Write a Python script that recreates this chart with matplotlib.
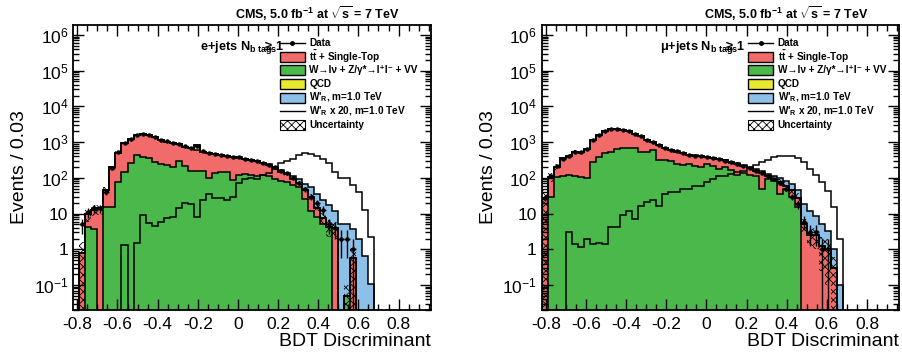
import numpy as np
import matplotlib
matplotlib.use("Agg")
import matplotlib.pyplot as plt
from matplotlib.patches import Rectangle
from matplotlib.lines import Line2D
from matplotlib.ticker import FixedLocator, MultipleLocator

plt.rcParams['font.family'] = ['Liberation Sans', 'DejaVu Sans']
plt.rcParams['mathtext.fontset'] = 'custom'
plt.rcParams['mathtext.rm'] = 'Liberation Sans:bold'
plt.rcParams['mathtext.it'] = 'Liberation Sans:bold'
plt.rcParams['mathtext.bf'] = 'Liberation Sans:bold'
plt.rcParams['hatch.linewidth'] = 0.6

# ---------------- binning ----------------
bin_low = -0.82
bin_width = 0.03
n_bins = 60

# ---------------- e+jets ----------------
e_wjets = [0, 0, 4.2, 3.7, 0, 15, 15, 79, 150, 257,
           440, 395, 355, 270, 250, 230, 200, 305, 208, 160,
           157, 157, 98, 140, 150, 150, 88, 120, 130, 120,
           115, 120, 110, 90, 80, 75, 65, 55, 25, 12,
           8, 5, 4.3, 0, 0, 0.05, 0, 0, 0, 0,
           0, 0, 0, 0, 0, 0, 0, 0, 0, 0]
e_ttbar = [0, 0.78, 5.4, 9.3, 14, 31, 185, 431, 785, 943,
           1160, 1255, 1245, 1100, 900, 810, 735, 565, 542, 520,
           443, 388, 392, 330, 290, 270, 302, 250, 210, 200,
           175, 140, 120, 100, 70, 50, 30, 15, 20, 18,
           6, 2.5, 0, 4.0, 0, 0, 0.56, 0, 0, 0,
           0, 0, 0, 0, 0, 0, 0, 0, 0, 0]
e_qcd = [0] * 20 + [250] + [0] * 39
e_wprime = [0, 0, 0, 0, 0, 0, 0, 0, 0.065, 0,
            0.075, 0.45, 0.27, 0.225, 0.3, 0.385, 0.4, 0.7, 1.0, 0.9,
            0.41, 1.2, 1.75, 1.35, 1.35, 1.2, 1.5, 3.5, 4.75, 5.0,
            4.75, 6.0, 7.0, 9.0, 12.8, 15, 16.5, 22, 24.5, 24,
            21, 17, 13, 7.5, 5.0, 4.9, 3.15, 2.0, 0.63, 0.11,
            0, 0, 0, 0, 0, 0, 0, 0, 0, 0]
e_wprime_x20 = [0, 0, 0, 0, 0, 0, 0, 0, 1.3, 0,
                1.5, 9, 5.4, 4.5, 6, 7.7, 8, 14, 20, 18,
                8.2, 24, 35, 27, 27, 24, 30, 70, 95, 100,
                95, 120, 140, 180, 256, 300, 330, 440, 490, 480,
                420, 340, 260, 150, 100, 98, 63, 40, 12.6, 2.25,
                0, 0, 0, 0, 0, 0, 0, 0, 0, 0]
e_data = [0, 5, 11, 14, 14, 40, 190, 530, 950, 1250,
          1620, 1680, 1600, 1380, 1160, 1050, 940, 880, 760, 700,
          780, 560, 500, 475, 445, 420, 395, 375, 345, 325,
          295, 265, 235, 200, 160, 135, 100, 72, 48, 30,
          20, 13, 5, 4, 2, 2, 1, 0, 0, 0,
          0, 0, 0, 0, 0, 0, 0, 0, 0, 0]
e_unc = [0, 1.0, 0.4, 0.35, 0.35, 0.2, 0.1, 0.08, 0.06, 0.06,
         0.05, 0.05, 0.05, 0.05, 0.05, 0.05, 0.05, 0.05, 0.05, 0.05,
         0.06, 0.05, 0.05, 0.05, 0.05, 0.06, 0.06, 0.06, 0.06, 0.06,
         0.07, 0.07, 0.07, 0.08, 0.08, 0.1, 0.1, 0.12, 0.15, 0.2,
         0.25, 0.35, 0.5, 0.5, 0, 1.0, 1.0, 0, 0, 0,
         0, 0, 0, 0, 0, 0, 0, 0, 0, 0]

# ---------------- mu+jets ----------------
m_wjets = [0, 29, 107, 114, 119, 114, 107, 100, 282, 392,
           490, 545, 630, 675, 675, 675, 545, 545, 600, 315,
           315, 300, 240, 225, 250, 220, 200, 240, 220, 180,
           200, 170, 120, 140, 120, 110, 50, 95, 80, 35,
           50, 30, 15, 0, 0, 0, 0, 0, 0, 0,
           0, 0, 0, 0, 0, 0, 0, 0, 0, 0]
m_ttbar = [25, 78, 97, 236, 291, 431, 413, 530, 878, 1208,
           1510, 1755, 1670, 1475, 1325, 1045, 955, 615, 380, 525,
           365, 300, 305, 265, 190, 200, 200, 140, 140, 150,
           110, 100, 130, 75, 70, 50, 90, 15, 15, 40,
           10, 15, 13, 5, 2.5, 2.5, 1.2, 1.0, 0.3, 0,
           0, 0, 0, 0, 0, 0, 0, 0, 0, 0]
m_qcd = [0] * 60
m_wprime = [0, 0, 0, 0, 0.15, 0.07, 0.058, 0.1, 0.072, 0.075,
            0.07, 0.2, 0.2, 0.47, 0.58, 0.36, 0.79, 1.05, 1.17, 0.84,
            1.7, 2.0, 2.0, 2.5, 2.5, 3.0, 3.0, 3.75, 4.5, 5.5,
            5.5, 6.5, 7.5, 8.0, 9.5, 11.5, 13.8, 16, 19, 21,
            21, 21, 17.5, 13.8, 9, 6, 3.8, 2.2, 0.75, 0.1,
            0, 0, 0, 0, 0, 0, 0, 0, 0, 0]
m_wprime_x20 = [0, 0, 0, 0, 2.96, 1.39, 1.16, 2.0, 1.45, 1.5,
                1.4, 4.1, 4.1, 9.4, 11.6, 7.1, 15.8, 20.9, 23.3, 16.8,
                34.5, 40, 40, 50, 50, 60, 60, 75, 90, 110,
                110, 130, 150, 160, 190, 230, 275, 320, 380, 420,
                420, 420, 350, 275, 180, 120, 76, 44, 15, 2,
                0, 0, 0, 0, 0, 0, 0, 0, 0, 0]
m_data = [28, 110, 210, 340, 420, 540, 530, 650, 1150, 1620,
          2000, 2350, 2300, 2150, 2000, 1700, 1500, 1180, 980, 850,
          690, 600, 550, 500, 440, 420, 400, 380, 360, 330,
          300, 270, 250, 215, 190, 160, 135, 110, 90, 70,
          50, 30, 18, 6, 3, 3, 1, 1, 0, 0,
          0, 0, 0, 0, 0, 0, 0, 0, 0, 0]
m_unc = [1.0, 0.3, 0.2, 0.12, 0.1, 0.08, 0.08, 0.07, 0.05, 0.05,
         0.05, 0.05, 0.05, 0.05, 0.05, 0.05, 0.05, 0.05, 0.05, 0.05,
         0.05, 0.05, 0.05, 0.05, 0.06, 0.06, 0.06, 0.06, 0.06, 0.07,
         0.07, 0.07, 0.08, 0.08, 0.09, 0.1, 0.1, 0.12, 0.15, 0.2,
         0.25, 0.3, 0.35, 0.4, 0.5, 0.6, 0.8, 0.9, 1.0, 0,
         0, 0, 0, 0, 0, 0, 0, 0, 0, 0]

ytick_vals = [1e-1, 1, 10, 1e2, 1e3, 1e4, 1e5, 1e6]
ytick_text = ['10$^{\\mathdefault{-1}}$', '1', '10', '10$^{\\mathdefault{2}}$',
              '10$^{\\mathdefault{3}}$', '10$^{\\mathdefault{4}}$',
              '10$^{\\mathdefault{5}}$', '10$^{\\mathdefault{6}}$']
xtick_vals = [-0.8, -0.6, -0.4, -0.2, 0, 0.2, 0.4, 0.6, 0.8]
xtick_text = ['-0.8', '-0.6', '-0.4', '-0.2', '0', '0.2', '0.4', '0.6', '0.8']

C_TT = '#F26B6B'
C_W = '#4BB84B'
C_QCD = '#E8E830'
C_WP = '#8CC0E8'

W, H = 903, 355
fig = plt.figure(figsize=(W / 100, H / 100), dpi=100)

edges = bin_low + bin_width * np.arange(n_bins + 1)
centers = 0.5 * (edges[:-1] + edges[1:])
FLOOR = 1e-5


def panel(ax_px, wj, tt, qcd, wp, wp20, data, unc, chan_x, chan_text):
    x0, x1, y0, y1 = ax_px
    ax = fig.add_axes([x0 / W, 1 - y1 / H, (x1 - x0) / W, (y1 - y0) / H])
    wj = np.array(wj, float)
    tt = np.array(tt, float)
    qcd = np.array(qcd, float)
    wp = np.array(wp, float)
    wp20 = np.array(wp20, float)
    data = np.array(data, float)
    unc = np.array(unc, float)

    c1 = wj
    c2 = c1 + tt
    c3 = c2 + qcd
    c4 = c3 + wp
    for cum, col in [(c4, C_WP), (c3, C_QCD), (c2, C_TT), (c1, C_W)]:
        v = np.where(cum > 0, cum, FLOOR)
        ax.stairs(v, edges, baseline=FLOOR, fill=True, facecolor=col,
                  edgecolor='none', zorder=1)
        ax.stairs(v, edges, baseline=FLOOR, fill=False, color='black',
                  lw=1.1, zorder=2)

    # uncertainty band on the total background
    bkg = c3
    for i in range(n_bins):
        if bkg[i] > 0 and unc[i] > 0:
            lo = max(bkg[i] * (1 - unc[i]), FLOOR)
            hi = bkg[i] * (1 + unc[i])
            ax.add_patch(Rectangle((edges[i], lo), bin_width, hi - lo,
                                   fill=False, hatch='xxxx', lw=0,
                                   edgecolor='black', zorder=3))

    # signal x20 line
    s = np.where(wp20 > 0, wp20, FLOOR)
    ax.stairs(s, edges, baseline=None, color='black', lw=1.1, zorder=4)

    # data
    m = data > 0
    ax.errorbar(centers[m], data[m], yerr=np.sqrt(data[m]), xerr=bin_width / 2,
                fmt='o', ms=2.2, color='black', lw=1.0, capsize=0, zorder=5)

    ax.set_yscale('log')
    ax.set_xlim(-0.82, 0.96)
    ax.set_ylim(0.02, 1.9e6)
    ax.yaxis.set_major_locator(FixedLocator(ytick_vals))
    ax.set_yticklabels(ytick_text)
    ax.xaxis.set_major_locator(FixedLocator(xtick_vals))
    ax.set_xticklabels(xtick_text)
    ax.xaxis.set_minor_locator(MultipleLocator(0.05))
    ax.tick_params(which='both', direction='in', top=True, right=True,
                   labelsize=12.5, width=1.0)
    ax.tick_params(which='major', length=8)
    ax.tick_params(which='minor', length=4.5)
    ax.tick_params(axis='x', which='major', pad=5)
    for sp in ax.spines.values():
        sp.set_linewidth(1.3)
    ax.set_ylabel('Events / 0.03', fontsize=14)
    ax.set_xlabel('BDT Discriminant', fontsize=14, loc='right', labelpad=1)

    ax.text(0.914, 1.04, 'CMS, 5.0 fb$^{-1}$ at $\\sqrt{s}$ = 7 TeV',
            transform=ax.transAxes, ha='right', va='center',
            fontsize=9, fontweight='bold')

    # channel label, ROOT-like: the "≥ 1" sits over the end of the subscript
    ax.text(chan_x, 0.922, chan_text, transform=ax.transAxes,
            ha='left', va='center', fontsize=9.2, fontweight='bold')

    # legend
    lx0, lx1, tx = 0.578, 0.648, 0.66
    rows = [0.936, 0.889, 0.841, 0.793, 0.745, 0.697, 0.649]
    bh = 0.036
    ax.add_line(Line2D([lx0, lx1], [rows[0]] * 2, color='k', lw=1,
                       transform=ax.transAxes, zorder=10))
    ax.add_line(Line2D([(lx0 + lx1) / 2], [rows[0]], color='k', marker='o',
                       ms=2.5, transform=ax.transAxes, zorder=10))
    for r, col in [(rows[1], C_TT), (rows[2], C_W), (rows[3], C_QCD), (rows[4], C_WP)]:
        ax.add_patch(Rectangle((lx0, r - bh / 2), lx1 - lx0, bh, facecolor=col,
                               edgecolor='k', lw=1, transform=ax.transAxes, zorder=10))
    ax.add_line(Line2D([lx0, lx1], [rows[5]] * 2, color='k', lw=1,
                       transform=ax.transAxes, zorder=10))
    ax.add_patch(Rectangle((lx0, rows[6] - bh / 2), lx1 - lx0, bh, facecolor='white',
                           hatch='xxxx', edgecolor='k', lw=0.8,
                           transform=ax.transAxes, zorder=10))
    labels = ['Data', 't$\\bar{t}$ + Single-Top',
              'W\u2192l\u03bd + Z/\u03b3*\u2192l\u207al\u207b + VV',
              'QCD', "W'$_{R}$, m=1.0 TeV", "W'$_{R}$ x 20, m=1.0 TeV", 'Uncertainty']
    for r, t in zip(rows, labels):
        ax.text(tx, r, t, transform=ax.transAxes, ha='left', va='center',
                fontsize=7.2, fontweight='bold', zorder=11)
    return ax


chan_tail = 'N$_{b\\ tags}\\hspace{-1.2}\\geq\\,1$'
panel((73.3, 430.7, 25, 310), e_wjets, e_ttbar, e_qcd, e_wprime, e_wprime_x20,
      e_data, e_unc, 0.354, 'e+jets ' + chan_tail)
panel((541.7, 899.1, 25, 310), m_wjets, m_ttbar, m_qcd, m_wprime, m_wprime_x20,
      m_data, m_unc, 0.331, '\u03bc+jets ' + chan_tail)

fig.savefig('out.png', dpi=100)
